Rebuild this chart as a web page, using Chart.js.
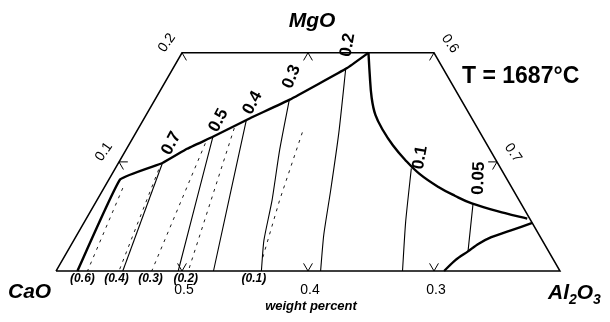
<!DOCTYPE html>
<html>
<head>
<meta charset="utf-8">
<script src="https://cdn.jsdelivr.net/npm/chart.js@4.4.0/dist/chart.umd.min.js"></script>
<style>
  html, body { margin: 0; padding: 0; background: #fff; }
  canvas { display: block; }
</style>
</head>
<body>
<canvas id="ternChart" width="610" height="322"></canvas>
<script>
// compositions as weight fractions [Al2O3, MgO]; CaO = 1 - Al2O3 - MgO
const frame = [[0.4, 0], [0.4, 0.2], [0.6, 0.2], [0.8, 0], [0.4, 0]];

const boundaryLeft = [[0.417, 0], [0.409, 0.084], [0.435, 0.099], [0.448, 0.112], [0.463, 0.123],
  [0.484, 0.140], [0.507, 0.157], [0.538, 0.186], [0.548, 0.200]];
const boundaryCurve = [[0.548, 0.200], [0.559, 0.180], [0.571, 0.159], [0.582, 0.143], [0.595, 0.129],
  [0.610, 0.115], [0.626, 0.102], [0.644, 0.089], [0.665, 0.077], [0.682, 0.069], [0.699, 0.062],
  [0.730, 0.053], [0.750, 0.048]];
const boundaryLow = [[0.756, 0.044], [0.742, 0.037], [0.730, 0.031], [0.723, 0.025], [0.718, 0.018],
  [0.712, 0.010], [0.708, 0]];

// iso-activity lines (solid) and their values
const isoValues = ['0.7', '0.5', '0.4', '0.3', '0.2', '0.1', '0.05'];
const isoLines = [
  [[0.435, 0.099], [0.453, 0]],
  [[0.463, 0.123], [0.497, 0]],
  [[0.482, 0.138], [0.525, 0]],
  [[0.507, 0.156], [0.522, 0.111], [0.539, 0.065], [0.551, 0.028], [0.563, 0]],
  [[0.537, 0.186], [0.561, 0.127], [0.581, 0.074], [0.596, 0.033], [0.610, 0]],
  [[0.635, 0.094], [0.655, 0.045], [0.675, 0]],
  [[0.700, 0.062], [0.718, 0.018]]
];
const isoLabelAt = [[0.433, 0.117], [0.460, 0.138], [0.479, 0.154], [0.498, 0.178],
  [0.528, 0.207], [0.637, 0.104], [0.693, 0.085]];

// dashed lines and their bracketed values
const dashValues = ['(0.6)', '(0.4)', '(0.3)', '(0.2)', '(0.1)'];
const dashLines = [
  [[0.415, 0.076], [0.425, 0]],
  [[0.435, 0.093], [0.450, 0]],
  [[0.460, 0.117], [0.476, 0]],
  [[0.476, 0.131], [0.505, 0]],
  [[0.532, 0.127], [0.545, 0.065], [0.558, 0.012]]
];
const dashLabelAt = [0.421, 0.448, 0.475, 0.503, 0.557]; // Al2O3 on the MgO = 0 edge

// axis ticks
const bottomTicks = [0.5, 0.4, 0.3];  // CaO on the base
const leftTicks = [0.1, 0.2];         // MgO on the Al2O3 = 0.4 side
const rightTicks = [0.6, 0.7];        // Al2O3 on the CaO = 0.2 side
const topTicks = [0.5];               // Al2O3 on the MgO = 0.2 side

const SQ = Math.sqrt(3) / 2;
const D = 0.007;
function pt(p) { return { x: p[0] + p[1] / 2, y: p[1] * SQ }; }

function lineSet(points, width, dash, tension) {
  return {
    data: points.map(pt), showLine: true, borderColor: '#000', borderWidth: width,
    borderDash: dash || [], pointRadius: 0, pointHoverRadius: 0, tension: tension || 0, fill: false
  };
}

const datasets = [];
datasets.push(lineSet(frame, 1.5));
isoLines.forEach(l => datasets.push(lineSet(l, 1.1, [], 0.2)));
dashLines.forEach(l => datasets.push(lineSet(l, 0.9, [3, 5])));
datasets.push(lineSet(boundaryLeft, 2.4, [], 0.1));
datasets.push(lineSet(boundaryCurve, 2.4, [], 0.4));
datasets.push(lineSet(boundaryLow, 2.4, [], 0.3));

bottomTicks.forEach(c => {
  const a = 1 - c;
  datasets.push(lineSet([[a - D, D], [a, 0], [a, D]], 1));
});
topTicks.forEach(a => {
  datasets.push(lineSet([[a, 0.2 - D], [a, 0.2], [a + D, 0.2 - D]], 1));
});
leftTicks.forEach(m => {
  if (m < 0.2) datasets.push(lineSet([[0.4 + D, m], [0.4, m], [0.4 + D, m - D]], 1));
  else datasets.push(lineSet([[0.4, m], [0.4 + D, m - D]], 1));
});
rightTicks.forEach(a => {
  const m = 0.8 - a;
  if (a > 0.6) datasets.push(lineSet([[a - D, m], [a, m], [a, m - D]], 1));
  else datasets.push(lineSet([[a, m], [a, m - D]], 1));
});

const FONT = '"Liberation Sans", Arial, sans-serif';
const isoAngles = [-62, -62, -62, -68, -80, -80, -88];

const textPlugin = {
  id: 'ternText',
  afterDatasetsDraw(chart) {
    const ctx = chart.ctx, sx = chart.scales.x, sy = chart.scales.y;
    const px = p => { const q = pt(p); return [sx.getPixelForValue(q.x), sy.getPixelForValue(q.y)]; };
    function txt(s, x, y, font, angle, align, base) {
      ctx.save();
      ctx.translate(x, y);
      ctx.rotate((angle || 0) * Math.PI / 180);
      ctx.font = font;
      ctx.textAlign = align || 'center';
      ctx.textBaseline = base || 'middle';
      ctx.fillStyle = '#000';
      ctx.fillText(s, 0, 0);
      ctx.restore();
    }

    // corner names
    txt('MgO', 312, 27, 'italic bold 21px ' + FONT, 0, 'center', 'alphabetic');
    txt('CaO', 8, 298, 'italic bold 21px ' + FONT, 0, 'left', 'alphabetic');
    let x = 548;
    const big = 'italic bold 21px ' + FONT, small = 'italic bold 14px ' + FONT;
    [['Al', big, 0], ['2', small, 5], ['O', big, 0], ['3', small, 5]].forEach(([s, f, dy]) => {
      ctx.font = f;
      txt(s, x, 299 + dy, f, 0, 'left', 'alphabetic');
      x += ctx.measureText(s).width;
    });
    txt('weight percent', 311, 310, 'italic bold 13px ' + FONT, 0, 'center', 'alphabetic');
    txt('T = 1687°C', 462, 83, 'bold 23px ' + FONT, 0, 'left', 'alphabetic');

    // tick labels
    bottomTicks.forEach(c => {
      const [tx, ty] = px([1 - c, 0]);
      txt(String(c), tx + 2, ty + 19, '14px ' + FONT);
    });
    leftTicks.forEach(m => {
      const [tx, ty] = px([0.4, m]);
      txt(String(m), tx - 15, ty - 10, '14px ' + FONT, -55);
    });
    rightTicks.forEach(a => {
      const [tx, ty] = px([a, 0.8 - a]);
      txt(String(a), tx + 16, ty - 9, '14px ' + FONT, 55);
    });

    // line labels
    isoValues.forEach((v, i) => {
      const [lx, ly] = px(isoLabelAt[i]);
      txt(v, lx, ly, 'bold 17px ' + FONT, isoAngles[i]);
    });
    dashValues.forEach((v, i) => {
      const [lx, ly] = px([dashLabelAt[i], 0]);
      txt(v, lx, ly + 8, 'italic bold 12px ' + FONT);
    });
  }
};

new Chart(document.getElementById('ternChart'), {
  type: 'scatter',
  data: { datasets: datasets },
  options: {
    responsive: false,
    animation: false,
    layout: { padding: 0 },
    plugins: { legend: { display: false }, tooltip: { enabled: false } },
    scales: {
      x: { type: 'linear', display: false, min: 448 / 1260, max: 1058 / 1260 },
      y: { type: 'linear', display: false, min: -51 / 1260, max: 271 / 1260 }
    }
  },
  plugins: [textPlugin]
});
</script>
</body>
</html>
